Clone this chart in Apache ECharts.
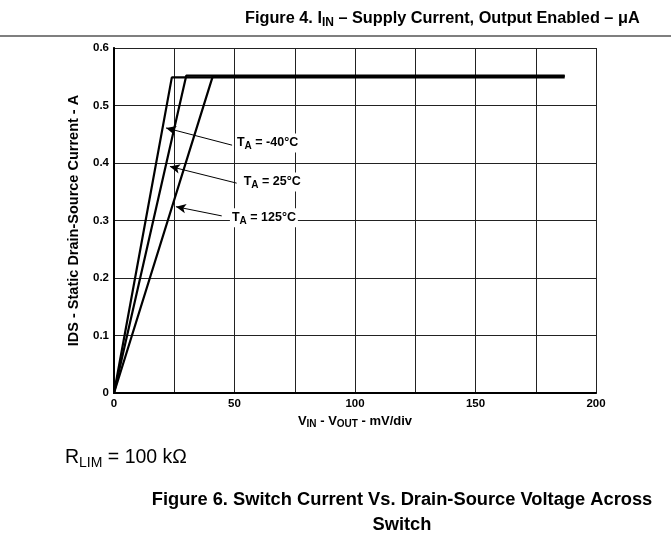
<!DOCTYPE html>
<html>
<head>
<meta charset="utf-8">
<script src="https://cdn.jsdelivr.net/npm/echarts@6/dist/echarts.min.js"></script>
<style>
html,body{margin:0;padding:0;background:#fff;}
#chart{width:671px;height:540px;}
</style>
</head>
<body>
<div id="chart"></div>
<script>
// ---- data ----
const xTicks = [0, 50, 100, 150, 200];
const yTicks = [0, 0.1, 0.2, 0.3, 0.4, 0.5, 0.6];
const seriesNames = ['TA = -40°C', 'TA = 25°C', 'TA = 125°C'];
const tempText = ['-40°C', '25°C', '125°C'];
const curveM40 = [[0, 0], [24, 0.549], [187, 0.549]];
const curve25 = [[0, 0], [30, 0.552], [187, 0.552]];
const curve125 = [[0, 0], [41, 0.551], [187, 0.551]];
// annotation: label anchor points (data coords)
const labelPts = [[50.2, 0.435], [53, 0.367], [48.1, 0.305]];
// arrows: tail -> tip (data coords)
const arrowTails = [[49, 0.431], [50.9, 0.365], [44.7, 0.308]];
const arrowTips = [[21.6, 0.461], [23.2, 0.394], [25.7, 0.324]];

const FONT = '"Liberation Sans", Arial, sans-serif';
const chart = echarts.init(document.getElementById('chart'), null, {renderer: 'canvas'});

const curves = [curveM40, curve25, curve125];
const series = curves.map((d, i) => ({
  name: seriesNames[i],
  type: 'line',
  data: d,
  symbol: 'none',
  lineStyle: {color: '#000', width: 2.2},
  z: 3,
  animation: false
}));

series.push({
  type: 'line',
  data: [],
  silent: true,
  markLine: {
    silent: true,
    animation: false,
    symbol: ['none', 'arrow'],
    symbolSize: [7, 10],
    lineStyle: {color: '#000', width: 1, type: 'solid'},
    label: {show: false},
    data: arrowTails.map((t, i) => [{coord: t}, {coord: arrowTips[i]}])
  }
});

series.push({
  type: 'scatter',
  symbolSize: 0,
  itemStyle: {opacity: 1},
  data: labelPts.map((p, i) => ({value: p, tName: tempText[i]})),
  z: 5,
  silent: true,
  animation: false,
  label: {
    show: true,
    position: 'right',
    distance: 0,
    color: '#000',
    opacity: 1,
    backgroundColor: '#fff',
    padding: [1, 2, 1, 2],
    formatter: p => '{t|T}{s|A}{t| = ' + p.data.tName + '}',
    rich: {
      t: {fontFamily: FONT, fontWeight: 'bold', fontSize: 12.5, color: '#000'},
      s: {fontFamily: FONT, fontWeight: 'bold', fontSize: 10, color: '#000', verticalAlign: 'bottom', padding: [7, 0, 0, 0]}
    }
  }
});

chart.setOption({
  backgroundColor: '#fff',
  animation: false,
  title: [
    {
      text: '{b|Figure 4. I}{s|IN}{b| – Supply Current, Output Enabled – μA}',
      left: 240, top: 3,
      textStyle: {
        rich: {
          b: {fontFamily: FONT, fontWeight: 'bold', fontSize: 16.3, color: '#000'},
          s: {fontFamily: FONT, fontWeight: 'bold', fontSize: 12, color: '#000', verticalAlign: 'bottom', padding: [9, 0, 0, 0]}
        }
      }
    },
    {
      text: '{b|R}{s|LIM}{b| = 100 kΩ}',
      left: 60, top: 440,
      textStyle: {
        rich: {
          b: {fontFamily: FONT, fontWeight: 'normal', fontSize: 19.5, color: '#000'},
          s: {fontFamily: FONT, fontWeight: 'normal', fontSize: 14, color: '#000', verticalAlign: 'bottom', padding: [11, 0, 0, 0]}
        }
      }
    },
    {
      text: 'Figure 6. Switch Current Vs. Drain-Source Voltage Across\nSwitch',
      left: 397, top: 482, textAlign: 'center',
      textStyle: {fontFamily: FONT, fontWeight: 'bold', fontSize: 18.3, color: '#000', lineHeight: 25, align: 'center'}
    }
  ],
  graphic: [
    {type: 'line', shape: {x1: 0, y1: 36, x2: 671, y2: 36}, style: {stroke: '#000', lineWidth: 1.2}}
  ],
  grid: {left: 114, right: 75, top: 48, bottom: 147, show: false},
  xAxis: [{
    type: 'value', min: 0, max: 200, interval: 25,
    axisLine: {show: true, onZero: false, lineStyle: {color: '#000', width: 2}},
    axisTick: {show: false},
    splitLine: {show: true, lineStyle: {color: '#222', width: 1}},
    axisLabel: {
      margin: 5,
      fontFamily: FONT, fontWeight: 'bold', fontSize: 11.5, color: '#000',
      formatter: v => (xTicks.indexOf(v) >= 0 ? String(v) : '')
    },
    name: '{b|V}{s|IN}{b| - V}{s|OUT}{b| - mV/div}',
    nameLocation: 'middle', nameGap: 20,
    nameTextStyle: {
      rich: {
        b: {fontFamily: FONT, fontWeight: 'bold', fontSize: 13, color: '#000'},
        s: {fontFamily: FONT, fontWeight: 'bold', fontSize: 10, color: '#000', verticalAlign: 'bottom', padding: [6, 0, 0, 0]}
      }
    }
  }, {
    type: 'value', min: 0, max: 200, position: 'top',
    axisLine: {show: true, lineStyle: {color: '#000', width: 1.5}},
    axisTick: {show: false}, axisLabel: {show: false}, splitLine: {show: false}
  }],
  yAxis: [{
    type: 'value', min: 0, max: 0.6, interval: 0.1,
    axisLine: {show: true, onZero: false, lineStyle: {color: '#000', width: 2}},
    axisTick: {show: false},
    splitLine: {show: true, lineStyle: {color: '#222', width: 1}},
    axisLabel: {
      margin: 5,
      fontFamily: FONT, fontWeight: 'bold', fontSize: 11.5, color: '#000',
      formatter: v => {
        const t = yTicks.find(k => Math.abs(k - v) < 1e-9);
        return t === undefined ? '' : (t === 0 ? '0' : t.toFixed(1));
      }
    },
    name: 'IDS - Static Drain-Source Current - A',
    nameLocation: 'middle', nameGap: 33,
    nameTextStyle: {fontFamily: FONT, fontWeight: 'bold', fontSize: 14.5, color: '#000'}
  }, {
    type: 'value', min: 0, max: 0.6, position: 'right',
    axisLine: {show: true, lineStyle: {color: '#000', width: 1.5}},
    axisTick: {show: false}, axisLabel: {show: false}, splitLine: {show: false}
  }],
  series: series
});
</script>
</body>
</html>
